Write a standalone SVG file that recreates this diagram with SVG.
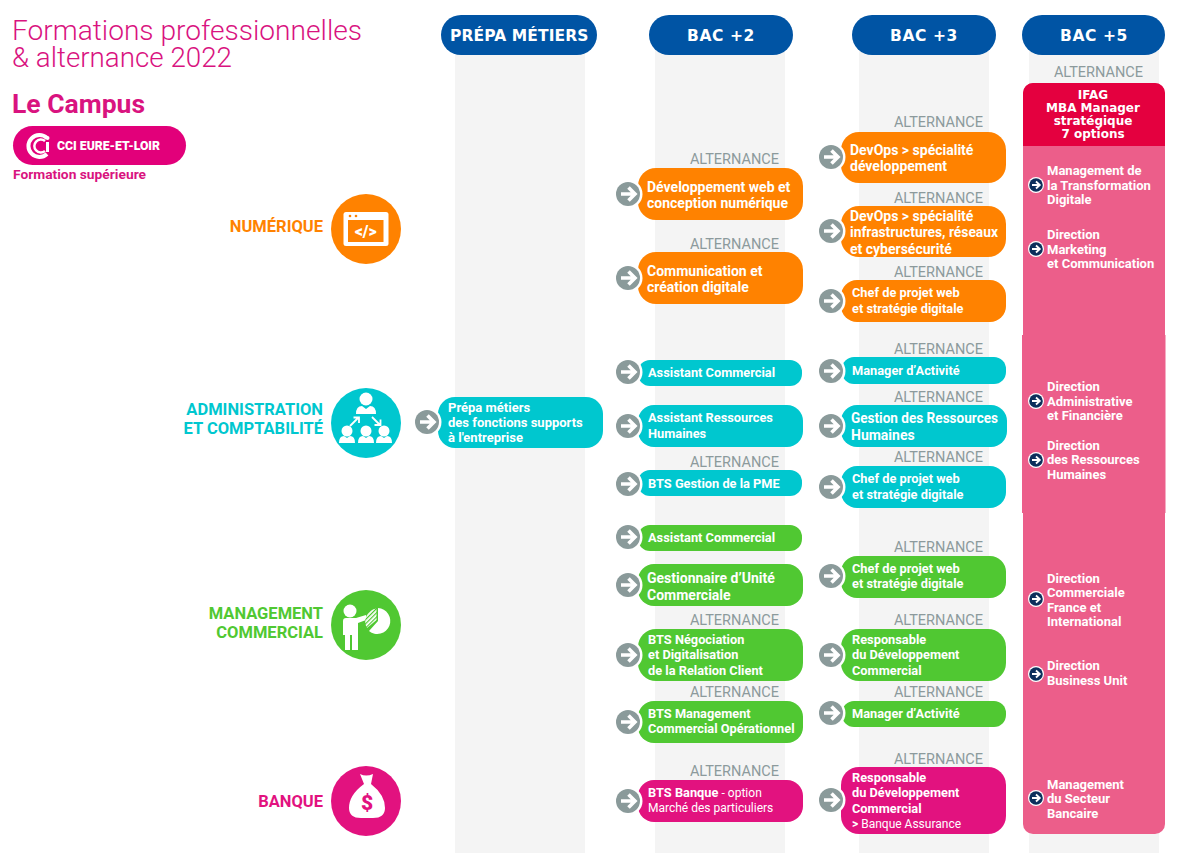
<svg xmlns="http://www.w3.org/2000/svg" width="1177" height="853" viewBox="0 0 1177 853">
<style>
text{font-family:"Roboto","Liberation Sans",sans-serif}
.col{fill:#f4f4f4}
.hd{fill:#0054a4}
.hdt{font-family:"DejaVu Sans",sans-serif;font-weight:700;font-size:15.5px;fill:#fff;text-anchor:middle;letter-spacing:.6px}
.alt{font-size:14.5px;fill:#8c9a9c;text-anchor:end}
.t{font-size:14px;font-weight:700;fill:#fff}
.s{font-size:12.8px;font-weight:700;fill:#fff}
.pm{font-size:13px;font-weight:700;fill:#fff}
.r{font-size:12px;font-weight:400;fill:#fff}
.cat{font-size:16.5px;font-weight:700;text-anchor:end}
.or{fill:#ff8200}.te{fill:#00c7cf}.gr{fill:#50c832}.ma{fill:#e2127f}
.w{fill:#fff}
.p5{font-size:13px;font-weight:700;fill:#fff}
.ifag{font-family:"DejaVu Sans",sans-serif;font-weight:700;font-size:12px;fill:#fff;text-anchor:middle}
.title{font-size:28px;font-weight:300;fill:#d9137f}
</style>
<defs>
<g id="badge"><circle r="14.5" fill="#fff"/><circle r="12" fill="#8a9a9a"/><path d="M-7 0H6M0.500-6.500 7 0 0.500 6.500" fill="none" stroke="#fff" stroke-width="3.600"/></g>
<g id="mini"><circle r="8" fill="#fff"/><circle r="6.800" fill="#0c2f5c"/><path d="M-4 0H3.500M0-3.500 3.800 0 0 3.500" fill="none" stroke="#fff" stroke-width="1.800"/></g>
<pattern id="hatch" width="3" height="3" patternUnits="userSpaceOnUse" patternTransform="rotate(45)"><rect width="3" height="3" fill="#fff"/><rect width="1.200" height="3" fill="#50c832"/></pattern>
</defs>

<g id="columns">
<rect class="col" x="455" y="50" width="130" height="803"/>
<rect class="col" x="655" y="50" width="130" height="803"/>
<rect class="col" x="859" y="50" width="130" height="803"/>
<rect class="col" x="1029" y="50" width="130" height="803"/>
</g>

<g id="header-prepa"><rect class="hd" x="441" y="15" width="156" height="40" rx="20"/><text class="hdt" x="519.500" y="41" textLength="139" lengthAdjust="spacing">PRÉPA MÉTIERS</text></g>
<g id="header-bac2"><rect class="hd" x="649" y="15" width="144" height="40" rx="20"/><text class="hdt" x="721" y="41">BAC +2</text></g>
<g id="header-bac3"><rect class="hd" x="852" y="15" width="144" height="40" rx="20"/><text class="hdt" x="924" y="41">BAC +3</text></g>
<g id="header-bac5"><rect class="hd" x="1022" y="15" width="143" height="40" rx="20"/><text class="hdt" x="1094" y="41">BAC +5</text></g>

<g id="title">
<text class="title" x="12" y="40" textLength="350" lengthAdjust="spacingAndGlyphs">Formations professionnelles</text>
<text class="title" x="12" y="67" textLength="220" lengthAdjust="spacingAndGlyphs">&amp; alternance 2022</text>
<text x="12" y="113" font-size="25" font-weight="700" fill="#d9137f" textLength="133" lengthAdjust="spacingAndGlyphs">Le Campus</text>
<rect x="13" y="126" width="173" height="39" rx="19.500" fill="#e2007a"/>
<path d="M47 138A11 11 0 1 0 47 154" fill="none" stroke="#fff" stroke-width="4"/>
<path d="M45 141A6.500 6.500 0 1 0 45 151" fill="none" stroke="#fff" stroke-width="2.500"/>
<rect x="46" y="142" width="3" height="10" fill="#fff"/><circle cx="47.500" cy="138" r="2" fill="#fff"/>
<text x="57" y="150" font-size="12.500" font-weight="900" fill="#fff" textLength="103" lengthAdjust="spacingAndGlyphs">CCI EURE-ET-LOIR</text>
<text x="13" y="179" font-size="13" font-weight="700" fill="#d9137f" textLength="133" lengthAdjust="spacingAndGlyphs">Formation supérieure</text>
</g>

<g id="cat-numerique">
<text class="cat or" x="323" y="232">NUMÉRIQUE</text>
<circle class="or" cx="366" cy="229" r="35"/>
<rect x="343.500" y="212" width="45" height="34" rx="2.500" fill="#fff"/>
<rect class="or" x="348" y="220" width="35.500" height="22"/>
<circle class="or" cx="350" cy="216" r="1.300"/><circle class="or" cx="356" cy="216" r="1.300"/>
<text x="365.700" y="237" font-size="16" font-weight="900" fill="#fff" text-anchor="middle">&lt;/&gt;</text>
</g>

<g id="cat-admin">
<text class="cat te" x="323" y="415">ADMINISTRATION</text>
<text class="cat te" x="323" y="434">ET COMPTABILITÉ</text>
<circle class="te" cx="366" cy="423" r="35"/>
<g class="w">
<circle cx="366" cy="399" r="6.500"/><path d="M356 414Q356 406 362 406L366 409 370 406Q376 406 376 414Z"/>
<circle cx="347" cy="431" r="5.500"/><path d="M339 443Q339 436 344 436L347 438 350 436Q355 436 355 443Z"/>
<circle cx="366" cy="431" r="5.500"/><path d="M358 443Q358 436 363 436L366 438 369 436Q374 436 374 443Z"/>
<circle cx="384" cy="431" r="5.500"/><path d="M376 443Q376 436 381 436L384 438 387 436Q392 436 392 443Z"/>
</g>
<path d="M350 426 358 418M353.500 417.500H359V423M372 417 380 425M374.500 425H380.500V419.500" fill="none" stroke="#fff" stroke-width="1.800"/>
</g>

<g id="cat-management">
<text class="cat gr" x="323" y="619">MANAGEMENT</text>
<text class="cat gr" x="323" y="638">COMMERCIAL</text>
<circle class="gr" cx="366" cy="625" r="35"/>
<circle class="w" cx="350" cy="611" r="6.500"/>
<path class="w" d="M343 621Q343 618 346 618H356L366 615V620L358 623V650H352V635H350V650H345V635H343Z"/>
<path class="w" d="M378 608A13 13 0 1 1 369 631L378 621Z"/>
<path fill="url(#hatch)" d="M376.500 608.500V620L367 628A13 13 0 0 1 376.500 608.500Z"/>
</g>

<g id="cat-banque">
<text class="cat ma" x="323" y="807">BANQUE</text>
<circle class="ma" cx="366" cy="801" r="35"/>
<path class="w" d="M360 774Q366 777 373 774L371 784Q385 795 385 808Q385 818 373 818H361Q349 818 349 808Q349 795 364 784Z"/>
<text x="367" y="810" font-size="21" font-weight="900" text-anchor="middle" fill="#e2127f">$</text>
</g>

<g id="node-prepa">
<rect class="te" x="438" y="397" width="165" height="51" rx="17"/>
<text class="pm" x="448" y="412">Prépa métiers</text><text class="pm" x="448" y="427">des fonctions supports</text><text class="pm" x="448" y="442">à l'entreprise</text>
</g>

<g id="b2-devweb"><text class="alt" x="779" y="164">ALTERNANCE</text><rect class="or" x="638" y="168" width="165" height="52" rx="18"/>
<text class="t" x="647" y="192">Développement web et</text><text class="t" x="647" y="208">conception numérique</text></g>
<g id="b2-comm"><text class="alt" x="779" y="249">ALTERNANCE</text><rect class="or" x="638" y="252" width="165" height="52" rx="18"/>
<text class="t" x="647" y="276">Communication et</text><text class="t" x="647" y="292">création digitale</text></g>
<g id="b2-asscom-te"><rect class="te" x="638" y="360" width="164" height="26" rx="12"/><text class="s" x="648" y="377">Assistant Commercial</text></g>
<g id="b2-assrh"><rect class="te" x="638" y="405" width="165" height="42" rx="16"/><text class="s" x="648" y="422">Assistant Ressources</text><text class="s" x="648" y="438">Humaines</text></g>
<g id="b2-gestpme"><text class="alt" x="779" y="467">ALTERNANCE</text><rect class="te" x="638" y="470" width="164" height="26" rx="12"/><text class="s" x="648" y="488">BTS Gestion de la PME</text></g>
<g id="b2-asscom-gr"><rect class="gr" x="638" y="525" width="164" height="26" rx="12"/><text class="s" x="648" y="542">Assistant Commercial</text></g>
<g id="b2-guc"><rect class="gr" x="638" y="564" width="165" height="42" rx="16"/><text class="t" x="647" y="583">Gestionnaire d’Unité</text><text class="t" x="647" y="600">Commerciale</text></g>
<g id="b2-nego"><text class="alt" x="779" y="625">ALTERNANCE</text><rect class="gr" x="638" y="629" width="165" height="52" rx="18"/>
<text class="s" x="648" y="644">BTS Négociation</text><text class="s" x="648" y="659">et Digitalisation</text><text class="s" x="648" y="675">de la Relation Client</text></g>
<g id="b2-mco"><text class="alt" x="779" y="697">ALTERNANCE</text><rect class="gr" x="638" y="701" width="165" height="42" rx="16"/>
<text class="s" x="648" y="718">BTS Management</text><text class="s" x="648" y="733">Commercial Opérationnel</text></g>
<g id="b2-banque"><text class="alt" x="779" y="776">ALTERNANCE</text><rect class="ma" x="638" y="780" width="165" height="42" rx="16"/>
<text class="s" x="648" y="797">BTS Banque <tspan class="r">- option</tspan></text><text class="r" x="648" y="812">Marché des particuliers</text></g>

<g id="b3-devops1"><text class="alt" x="983" y="127">ALTERNANCE</text><rect class="or" x="841" y="132" width="165" height="51" rx="18"/>
<text class="t" x="850" y="155">DevOps &gt; spécialité</text><text class="t" x="850" y="171">développement</text></g>
<g id="b3-devops2"><text class="alt" x="983" y="203">ALTERNANCE</text><rect class="or" x="841" y="206" width="165" height="51" rx="18"/>
<text class="t" x="850" y="221">DevOps &gt; spécialité</text><text class="t" x="850" y="237" textLength="148" lengthAdjust="spacingAndGlyphs">infrastructures, réseaux</text><text class="t" x="850" y="254">et cybersécurité</text></g>
<g id="b3-chef-or"><text class="alt" x="983" y="277">ALTERNANCE</text><rect class="or" x="841" y="280" width="165" height="42" rx="16"/>
<text class="s" x="852" y="297">Chef de projet web</text><text class="s" x="852" y="313">et stratégie digitale</text></g>
<g id="b3-manager-te"><text class="alt" x="983" y="354">ALTERNANCE</text><rect class="te" x="842" y="357" width="164" height="27" rx="12"/><text class="s" x="852" y="375">Manager d’Activité</text></g>
<g id="b3-grh"><text class="alt" x="983" y="402">ALTERNANCE</text><rect class="te" x="841" y="405" width="166" height="42" rx="16"/>
<text class="t" x="851" y="423" textLength="147" lengthAdjust="spacingAndGlyphs">Gestion des Ressources</text><text class="t" x="851" y="440">Humaines</text></g>
<g id="b3-chef-te"><text class="alt" x="983" y="462">ALTERNANCE</text><rect class="te" x="841" y="466" width="165" height="42" rx="16"/>
<text class="s" x="852" y="483">Chef de projet web</text><text class="s" x="852" y="499">et stratégie digitale</text></g>
<g id="b3-chef-gr"><text class="alt" x="983" y="552">ALTERNANCE</text><rect class="gr" x="841" y="556" width="165" height="42" rx="16"/>
<text class="s" x="852" y="573">Chef de projet web</text><text class="s" x="852" y="588">et stratégie digitale</text></g>
<g id="b3-resp-gr"><text class="alt" x="983" y="625">ALTERNANCE</text><rect class="gr" x="841" y="629" width="165" height="52" rx="18"/>
<text class="s" x="852" y="644">Responsable</text><text class="s" x="852" y="659">du Développement</text><text class="s" x="852" y="675">Commercial</text></g>
<g id="b3-manager-gr"><text class="alt" x="983" y="697">ALTERNANCE</text><rect class="gr" x="842" y="701" width="164" height="26" rx="12"/><text class="s" x="852" y="718">Manager d’Activité</text></g>
<g id="b3-resp-ma"><text class="alt" x="983" y="764">ALTERNANCE</text><rect class="ma" x="841" y="767" width="165" height="67" rx="18"/>
<text class="s" x="852" y="782">Responsable</text><text class="s" x="852" y="797">du Développement</text><text class="s" x="852" y="813">Commercial</text><text class="r" x="852" y="828"><tspan font-weight="700">&gt;</tspan> Banque Assurance</text></g>

<g id="b5-ifag">
<text class="alt" x="1143" y="77">ALTERNANCE</text>
<rect x="1023" y="83" width="142" height="751" rx="10" fill="#ec5e8a"/>
<rect x="1022" y="335" width="143.500" height="178" fill="#ec5e8a"/>
<path d="M1023 146V93A10 10 0 0 1 1033 83H1155A10 10 0 0 1 1165 93V146Z" fill="#e4003f"/>
<text class="ifag" x="1093" y="99">IFAG</text><text class="ifag" x="1093" y="112">MBA Manager</text><text class="ifag" x="1093" y="125">stratégique</text><text class="ifag" x="1093" y="138">7 options</text>
</g>
<g id="b5-options">
<text class="p5" x="1047" y="175">Management de</text><text class="p5" x="1047" y="190">la Transformation</text><text class="p5" x="1047" y="204">Digitale</text>
<text class="p5" x="1047" y="239">Direction</text><text class="p5" x="1047" y="254">Marketing</text><text class="p5" x="1047" y="268">et Communication</text>
<text class="p5" x="1047" y="391">Direction</text><text class="p5" x="1047" y="406">Administrative</text><text class="p5" x="1047" y="420">et Financière</text>
<text class="p5" x="1047" y="450">Direction</text><text class="p5" x="1047" y="464">des Ressources</text><text class="p5" x="1047" y="479">Humaines</text>
<text class="p5" x="1047" y="583">Direction</text><text class="p5" x="1047" y="597">Commerciale</text><text class="p5" x="1047" y="612">France et</text><text class="p5" x="1047" y="626">International</text>
<text class="p5" x="1047" y="670">Direction</text><text class="p5" x="1047" y="685">Business Unit</text>
<text class="p5" x="1047" y="789">Management</text><text class="p5" x="1047" y="803">du Secteur</text><text class="p5" x="1047" y="818">Bancaire</text>
</g>

<g id="connectors">
<use href="#badge" x="427" y="422"/>
<use href="#badge" x="628" y="194"/><use href="#badge" x="628" y="278"/><use href="#badge" x="628" y="372"/><use href="#badge" x="628" y="426"/><use href="#badge" x="628" y="484"/><use href="#badge" x="628" y="537"/><use href="#badge" x="628" y="585"/><use href="#badge" x="628" y="655"/><use href="#badge" x="628" y="722"/><use href="#badge" x="628" y="801"/>
<use href="#badge" x="831" y="157"/><use href="#badge" x="831" y="231"/><use href="#badge" x="831" y="301"/><use href="#badge" x="831" y="371"/><use href="#badge" x="831" y="426"/><use href="#badge" x="831" y="487"/><use href="#badge" x="831" y="576"/><use href="#badge" x="831" y="655"/><use href="#badge" x="831" y="713"/><use href="#badge" x="831" y="800"/>
<use href="#mini" x="1036" y="185"/><use href="#mini" x="1036" y="249"/><use href="#mini" x="1036" y="401"/><use href="#mini" x="1036" y="460"/><use href="#mini" x="1036" y="599"/><use href="#mini" x="1036" y="674"/><use href="#mini" x="1036" y="798"/>
</g>
</svg>
